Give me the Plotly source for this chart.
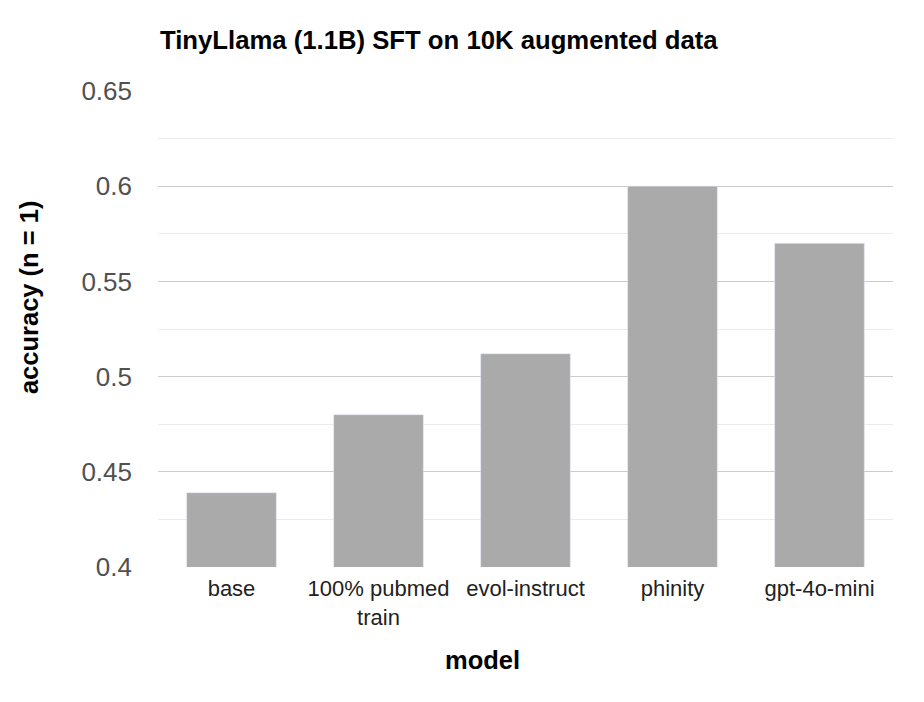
import plotly.graph_objects as go

models = ["base", "100% pubmed<br>train", "evol-instruct", "phinity", "gpt-4o-mini"]
accuracy = [0.439, 0.480, 0.512, 0.600, 0.570]

fig = go.Figure(go.Bar(x=models, y=accuracy, marker_color="#aaaaaa", width=0.61))

fig.update_layout(
    width=924, height=702,
    margin=dict(l=150, r=39, t=83, b=143),
    plot_bgcolor="white", paper_bgcolor="white",
    font=dict(family="Liberation Sans, Arial, sans-serif"),
    title=dict(text="<b>TinyLlama (1.1B) SFT on 10K augmented data</b>",
               x=152 / 924, xanchor="left", y=1 - 32 / 702, yanchor="middle",
               font=dict(size=25.7, color="#000000")),
    showlegend=False,
    annotations=[
        dict(text="<b>accuracy (n = 1)</b>", xref="paper", yref="paper",
             x=-0.1755, y=0.565, textangle=-90, showarrow=False,
             xanchor="center", yanchor="middle",
             font=dict(size=25.5, color="#000000")),
        dict(text="<b>model</b>", xref="paper", yref="paper",
             x=0.442, y=-0.195, showarrow=False,
             xanchor="center", yanchor="middle",
             font=dict(size=25.5, color="#000000")),
    ],
)
fig.update_yaxes(
    range=[0.4, 0.65], tickvals=[0.4, 0.45, 0.5, 0.55, 0.6, 0.65],
    ticktext=["0.4", "0.45", "0.5", "0.55", "0.6", "0.65"],
    gridcolor="#cccccc", gridwidth=1.3, zeroline=False,
    minor=dict(dtick=0.025, tick0=0.4, showgrid=True, gridcolor="#ebebeb", gridwidth=1),
    tickfont=dict(size=26, color="#505050"), ticklabelstandoff=25,
)
fig.update_xaxes(
    tickfont=dict(size=22, color="#222222"), showline=False, ticklabelstandoff=6,
)

fig.write_html("out.html")
